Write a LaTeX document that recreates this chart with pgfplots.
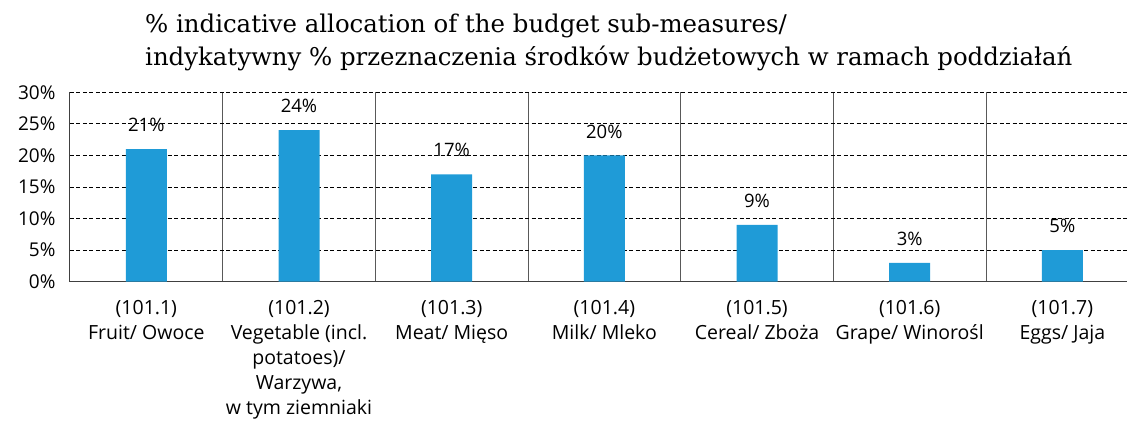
\documentclass[border=0pt]{standalone}
\usepackage{fontspec}
\setmainfont{Open Sans}
\newfontfamily\titlefont{DejaVu Serif}
\usepackage{pgfplots}
\pgfplotsset{compat=1.18}
\definecolor{barblue}{HTML}{1F9BD7}
\begin{document}
\begin{tikzpicture}
\useasboundingbox (-70bp,-139.3bp) rectangle (1057bp,281.7bp);
\begin{axis}[
  at={(0,0)}, anchor=south west,
  scale only axis, width=1057bp, height=189.4bp,
  xmin=-0.5, xmax=6.423, ymin=0, ymax=30,
  axis x line*=bottom, axis y line*=left,
  axis line style={-, black!75, line width=1bp},
  ybar, bar width=41bp,
  ytick={0,5,10,15,20,25,30},
  yticklabels={0\%,5\%,10\%,15\%,20\%,25\%,30\%},
  xtick={0,1,2,3,4,5,6},
  xticklabels={{(101.1)\\Fruit/ Owoce},{(101.2)\\Vegetable (incl.\\potatoes)/\\Warzywa,\\w tym ziemniaki},{(101.3)\\Meat/ Mięso},{(101.4)\\Milk/ Mleko},{(101.5)\\Cereal/ Zboża},{(101.6)\\Grape/ Winorośl},{(101.7)\\Eggs/ Jaja}},
  minor xtick={0.5,1.5,2.5,3.5,4.5,5.5},
  xminorgrids, ymajorgrids,
  minor grid style={solid, black!65, line width=1bp},
  major grid style={black, line width=0.9bp, dash pattern=on 4bp off 2.5bp},
  tick style={draw=none},
  xticklabel style={align=center, font=\fontsize{19.5bp}{25bp}\selectfont, yshift=-11bp},
  yticklabel style={font=\fontsize{19bp}{23bp}\selectfont, xshift=-11bp},
  /pgf/number format/assume math mode=true,
  nodes near coords={\pgfmathprintnumber{\pgfplotspointmeta}\%},
  every node near coord/.append style={font=\fontsize{18.5bp}{22bp}\selectfont, inner sep=0pt, anchor=south, yshift=17bp},
]
\addplot[fill=barblue, draw=none] coordinates {(0,21) (1,24) (2,17) (3,20) (4,9) (5,3) (6,5)};
\end{axis}
\node[anchor=base west, inner sep=0pt, font=\titlefont\fontsize{24.4bp}{30bp}\selectfont] at (75bp,248.7bp) {\% indicative allocation of the budget sub-measures/};
\node[anchor=base west, inner sep=0pt, font=\titlefont\fontsize{24.4bp}{30bp}\selectfont] at (75bp,215.7bp) {indykatywny \% przeznaczenia środków budżetowych w ramach poddziałań};
\end{tikzpicture}
\end{document}
